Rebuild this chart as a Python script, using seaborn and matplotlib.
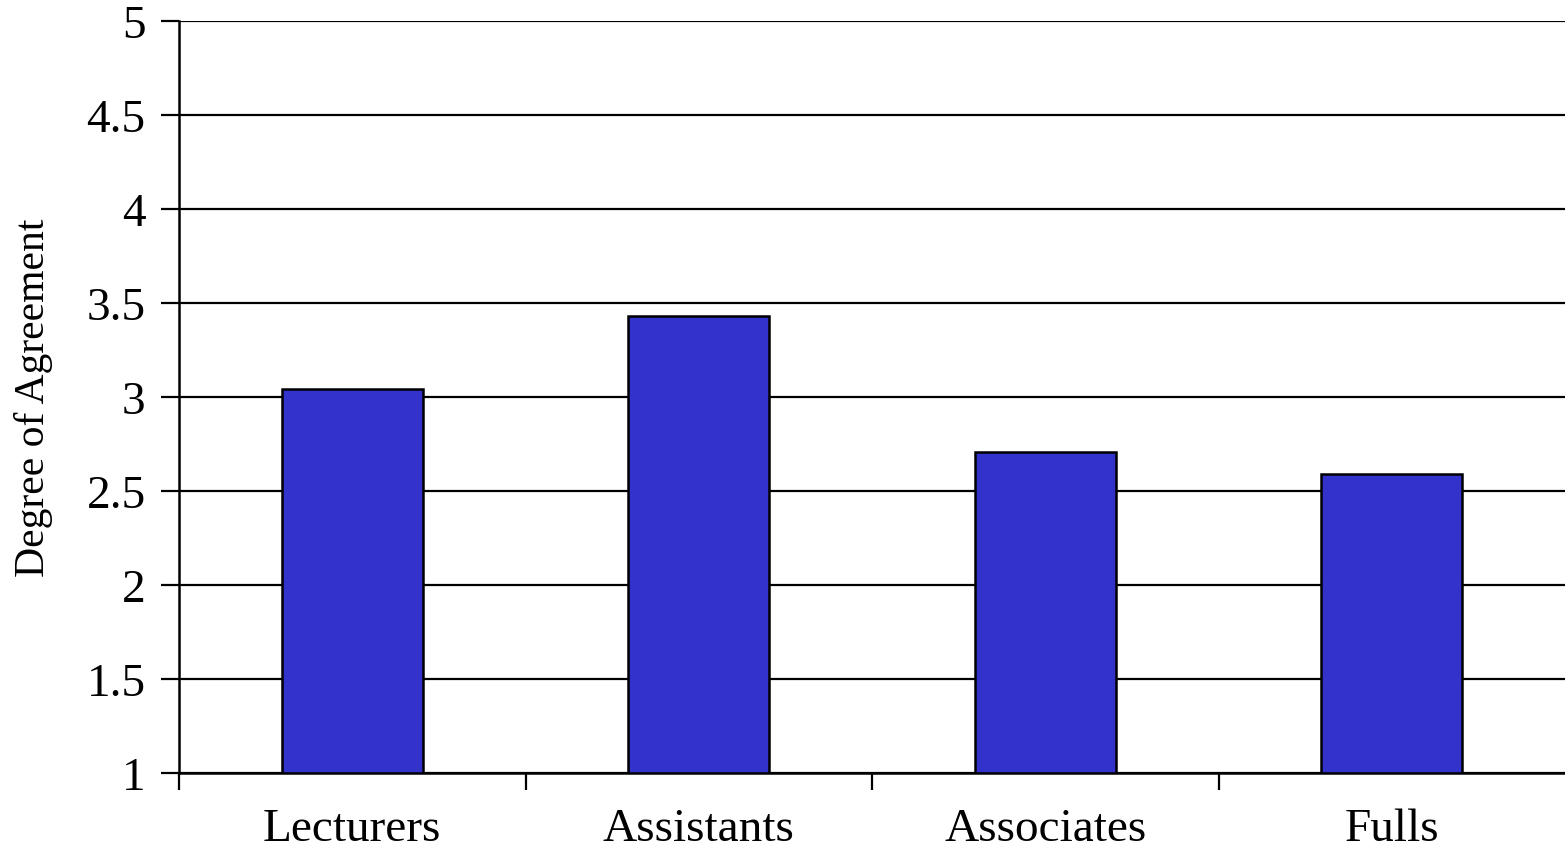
import pandas as pd
import matplotlib.pyplot as plt
import seaborn as sns

# Dados
categorias = ["Lecturers", "Assistants", "Associates", "Fulls"]
valores = [3.04, 3.43, 2.71, 2.59]
ticks_y = [1, 1.5, 2, 2.5, 3, 3.5, 4, 4.5, 5]
rotulos_y = ["1", "1.5", "2", "2.5", "3", "3.5", "4", "4.5", "5"]

sns.set_theme(style="white")
plt.rcParams['font.family'] = ['Liberation Serif', 'DejaVu Serif']
plt.rcParams['text.color'] = 'black'
plt.rcParams['axes.labelcolor'] = 'black'
plt.rcParams['xtick.color'] = 'black'
plt.rcParams['ytick.color'] = 'black'

df = pd.DataFrame({"categoria": categorias, "valor": valores})

fig = plt.figure(figsize=(15.65, 8.53), dpi=100)
ax = fig.add_axes([179 / 1565, 1 - 774 / 853, 1 - 179 / 1565, (774 - 22) / 853])

sns.barplot(data=df, x="categoria", y="valor", color="#3333CC", saturation=1,
            width=0.407, edgecolor="black", linewidth=1.8, ax=ax, zorder=3)

# barras partem de 1, não de 0
for p, v in zip(ax.patches, valores):
    p.set_y(1)
    p.set_height(v - 1)

ax.set_ylim(1, 5)
ax.set_xlim(-0.5, len(categorias) - 0.5)
ax.set_yticks(ticks_y)
ax.set_yticklabels(rotulos_y)
ax.yaxis.grid(True, color="black", linewidth=1.6, zorder=0)
ax.set_axisbelow(True)

# ticks do eixo x nos limites entre categorias
ax.set_xticks([i + 0.5 for i in range(-1, len(categorias) - 1)], minor=True)
ax.set_xticks(range(len(categorias)))
ax.set_xticklabels(categorias)
ax.tick_params(axis="x", which="major", length=0, pad=25, labelsize=34)
ax.tick_params(axis="x", which="minor", length=12, width=1.6,
               direction="out", bottom=True)
ax.tick_params(axis="y", length=13, width=1.6, direction="out",
               left=True, pad=11, labelsize=34)

for lado in ["top", "right"]:
    ax.spines[lado].set_visible(False)
for lado in ["left", "bottom"]:
    ax.spines[lado].set_color("black")
    ax.spines[lado].set_linewidth(1.8)

ax.set_xlabel("")
ax.set_ylabel("Degree of Agreement", fontsize=30, labelpad=24)

fig.savefig("out.png", dpi=100)
